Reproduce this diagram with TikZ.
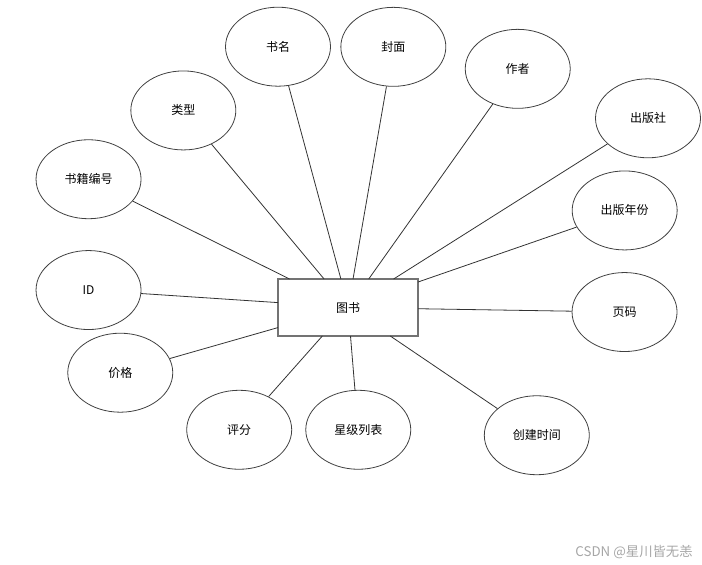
\documentclass[tikz,border=0pt]{standalone}
\usepackage{fontspec}
\setmainfont{Noto Sans CJK SC}
\usetikzlibrary{shapes.geometric,positioning}

\begin{document}
\begin{tikzpicture}[x=0.75pt,y=-0.75pt,
    on grid,
    every node/.style={font=\fontsize{9}{11}\selectfont},
    entity/.style={rectangle,draw=black!55,line width=1.1pt,minimum width=105pt,minimum height=42.75pt,outer sep=0pt},
    attr/.style={ellipse,draw=black!75,line width=0.6pt,minimum width=78.75pt,minimum height=59.25pt,inner sep=0pt},
    link/.style={draw=black!80,line width=0.6pt}
]

\useasboundingbox (0,0) rectangle (702,564);

% Entity
\node[entity] (book) at (348,307.5) {图书};

% Attributes - upper half
\node[attr,above left=195.6pt and 52.5pt of book] (title) {书名};
\node[attr,above right=195.5pt and 34pt of book] (cover) {封面};
\node[attr,above right=179pt and 127.3pt of book] (author) {作者};
\node[attr,above right=141.9pt and 225pt of book] (publisher) {出版社};
\node[attr,above right=72.8pt and 207.5pt of book] (pubyear) {出版年份};
\node[attr,above left=147.8pt and 123.5pt of book] (type) {类型};
\node[attr,above left=96.2pt and 194.6pt of book] (isbn) {书籍编号};
\node[attr,above left=13.1pt and 194.6pt of book] (id) {ID};

% Attributes - lower half
\node[attr,below right=3.4pt and 207.4pt of book] (pages) {页码};
\node[attr,below right=95.8pt and 141.6pt of book] (created) {创建时间};
\node[attr,below right=91.7pt and 7.7pt of book] (stars) {星级列表};
\node[attr,below left=91.7pt and 81.6pt of book] (rating) {评分};
\node[attr,below left=48.9pt and 170.8pt of book] (price) {价格};

% Attribute to entity connections
\draw[link] (isbn) -- (book.154);
\draw[link] (type) -- (book.130);
\draw[link] (title) -- (book.104);
\draw[link] (cover) -- (book.80);
\draw[link] (author) -- (book.54);
\draw[link] (publisher) -- (book.32);
\draw[link] (pubyear) -- (book.20);
\draw[link] (pages) -- (book.359);
\draw[link] (created) -- (book.326);
\draw[link] (stars) -- (book.275);
\draw[link] (rating) -- (book.228);
\draw[link] (price) -- (book.196);
\draw[link] (id) -- (book.176);

% Watermark
\node[font=\fontsize{10}{12}\selectfont,text=black!35,below right=183.2pt and 214.5pt of book] (mark) {CSDN @星川皆无恙};

\end{tikzpicture}
\end{document}
